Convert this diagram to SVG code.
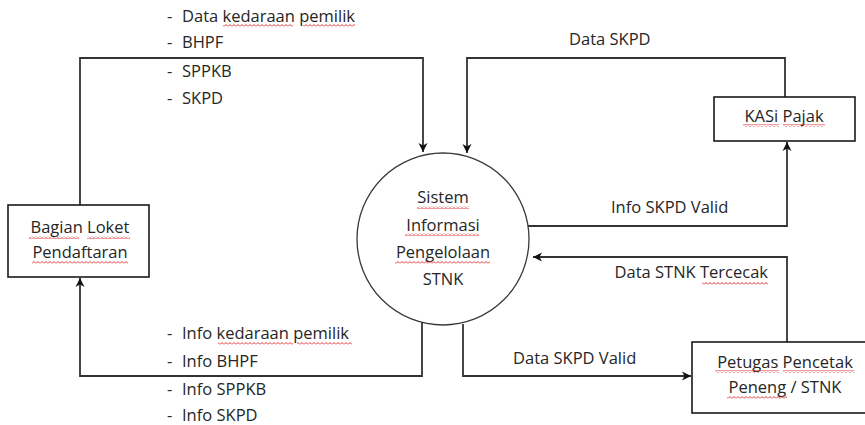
<svg xmlns="http://www.w3.org/2000/svg" width="865" height="425" viewBox="0 0 865 425">
<style>
  text { font-family: "Open Sans", "Liberation Sans", sans-serif; font-size: 16.5px; fill: #262626; }
  .c { text-anchor: middle; }
  .box { fill: #fff; stroke: #1a1a1a; stroke-width: 1.6; }
  .proc { fill: #fff; stroke: #3a3a3a; stroke-width: 1.3; }
  .flow { fill: none; stroke: #333; stroke-width: 1.8; }
  .flow.a { marker-end: url(#arr); }
  .sq { fill: url(#wave); }
</style>
<defs>
  <marker id="arr" markerUnits="userSpaceOnUse" markerWidth="10" markerHeight="10" refX="9" refY="5" orient="auto">
    <path d="M0,0.5 L9,5 L0,9.5 L2.5,5 z" fill="#111"/>
  </marker>
  <pattern id="wave" patternUnits="userSpaceOnUse" width="4" height="3">
    <path d="M0,2.5 L2,0.5 L4,2.5" fill="none" stroke="#e02020" stroke-width="0.9"/>
  </pattern>
</defs>

<g id="connectors">
  <polyline class="flow a" points="80,205 80,58 423,58 423,152"/>
  <polyline class="flow a" points="422,321 422,376 80,376 80,278"/>
  <polyline class="flow a" points="785,97 785,58 467,58 467,153"/>
  <polyline class="flow a" points="528,226 787,226 787,142"/>
  <polyline class="flow a" points="787,342 787,257 533,257"/>
  <polyline class="flow a" points="463,324 463,376 691,376"/>
</g>

<g id="labels">
  <text x="167" y="22">-</text><text x="182" y="22">Data kedaraan pemilik</text>
  <text x="167" y="48">-</text><text x="182" y="48">BHPF</text>
  <text x="167" y="77">-</text><text x="182" y="77">SPPKB</text>
  <text x="167" y="104">-</text><text x="182" y="104">SKPD</text>
  <rect class="sq" x="223" y="24" width="70" height="3"/>
  <rect class="sq" x="303" y="24" width="52" height="3"/>

  <text x="167" y="339">-</text><text x="182" y="339">Info kedaraan pemilik</text>
  <text x="167" y="367">-</text><text x="182" y="367">Info BHPF</text>
  <text x="167" y="395">-</text><text x="182" y="395">Info SPPKB</text>
  <text x="167" y="421">-</text><text x="182" y="421">Info SKPD</text>
  <rect class="sq" x="218" y="342" width="75" height="3"/>
  <rect class="sq" x="297" y="342" width="55" height="3"/>

  <text x="569" y="45">Data SKPD</text>
  <text x="611" y="213">Info SKPD Valid</text>
  <text x="768" y="278" text-anchor="end">Data STNK Tercecak</text>
  <rect class="sq" x="702" y="282" width="66" height="3"/>
  <text x="513" y="364">Data SKPD Valid</text>
</g>

<g id="node-loket">
  <rect class="box" x="8" y="205" width="141" height="72"/>
  <text class="c" x="80" y="233">Bagian Loket</text>
  <text class="c" x="80" y="258">Pendaftaran</text>
  <rect class="sq" x="29" y="236" width="50" height="3"/>
  <rect class="sq" x="87" y="236" width="43" height="3"/>
  <rect class="sq" x="32" y="261" width="96" height="3"/>
</g>

<g id="node-sistem">
  <circle class="proc" cx="443" cy="239" r="86"/>
  <text class="c" x="443" y="203">Sistem</text>
  <text class="c" x="443" y="231">Informasi</text>
  <text class="c" x="443" y="258">Pengelolaan</text>
  <text class="c" x="443" y="285">STNK</text>
  <rect class="sq" x="417" y="206" width="52" height="3"/>
  <rect class="sq" x="405" y="233" width="74" height="3"/>
  <rect class="sq" x="395" y="261" width="95" height="3"/>
</g>

<g id="node-kasi">
  <rect class="box" x="714" y="97" width="141" height="44"/>
  <text class="c" x="784" y="122">KASi Pajak</text>
  <rect class="sq" x="743" y="124" width="36" height="3"/>
  <rect class="sq" x="783" y="124" width="42" height="3"/>
</g>

<g id="node-petugas">
  <rect class="box" x="692" y="342" width="180" height="71"/>
  <text class="c" x="785" y="368">Petugas Pencetak</text>
  <text class="c" x="785" y="393">Peneng / STNK</text>
  <rect class="sq" x="715" y="370" width="64" height="3"/>
  <rect class="sq" x="783" y="370" width="71" height="3"/>
  <rect class="sq" x="727" y="396" width="60" height="3"/>
</g>
</svg>
